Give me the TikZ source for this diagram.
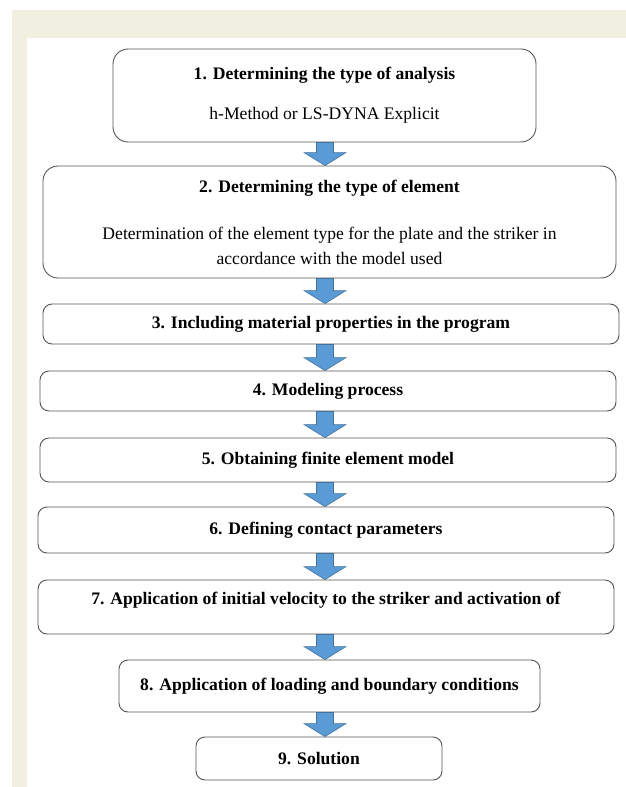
\documentclass[tikz,border=0pt]{standalone}
\usepackage{fontspec}
\setmainfont{Liberation Serif}
\usetikzlibrary{calc,positioning}
\definecolor{panelcream}{RGB}{241,239,224}
\definecolor{boxline}{RGB}{85,85,85}
\definecolor{arrowblue}{RGB}{91,155,213}
\definecolor{arrowedge}{RGB}{65,113,156}
\tikzset{
  stepbox/.style = {shape=rectangle, rounded corners=#1, draw=boxline,
    line width=0.9pt, align=center, inner sep=0pt,
    font=\fontsize{17.6}{25}\selectfont},
  stepbox/.default = 9pt,
  % block arrow between two boxes
  flowarrow/.style = {fill=arrowblue, draw=arrowedge, line width=0.6pt,
    to path={let \p1=(\tikztostart), \p2=(\tikztotarget) in
      (\x1-8.5pt,\y1) -- (\x1+8.5pt,\y1) -- (\x1+8.5pt,\y2+13pt)
      -- (\x1+21pt,\y2+13pt) -- (\x2,\y2) -- (\x1-21pt,\y2+13pt)
      -- (\x1-8.5pt,\y2+13pt) -- cycle}}
}
\begin{document}
\begin{tikzpicture}[x=1pt, y=-1pt]
  \useasboundingbox (0,0) rectangle (626,787);
  \fill[panelcream] (12,10) rectangle (626,787);
  \fill[white] (27,38) rectangle (626,787);
  \coordinate (axis) at (325,0);

  \node[stepbox=15pt, minimum width=423pt, minimum height=93pt] (s1) at (324.5,95.5)
    {\textbf{1. Determining the type of analysis}\\[15pt] h-Method or LS-DYNA Explicit};
  \node[stepbox=15pt, minimum width=573pt, minimum height=112pt] (s2) at (329.5,222)
    {\textbf{2. Determining the type of element}\\[22pt]
     Determination of the element type for the plate and the striker in\\
     accordance with the model used};
  \node[stepbox, minimum width=576pt, minimum height=40pt] (s3) at (331,324)
    {\textbf{3. Including material properties in the program}};
  \node[stepbox, minimum width=576pt, minimum height=40pt] (s4) at (328,391)
    {\textbf{4. Modeling process}};
  \node[stepbox, minimum width=576pt, minimum height=44pt] (s5) at (328,460)
    {\textbf{5. Obtaining finite element model}};
  \node[stepbox, minimum width=576pt, minimum height=46pt] (s6) at (326,530)
    {\textbf{6. Defining contact parameters}};
  \node[stepbox, minimum width=576pt, minimum height=54pt] (s7) at (326,607)
    {\textbf{7. Application of initial velocity to the striker and activation of}\\[-8pt] \mbox{}};
  \node[stepbox, minimum width=421pt, minimum height=52pt] (s8) at (329.5,686)
    {\textbf{8. Application of loading and boundary conditions}};
  \node[stepbox, minimum width=246pt, minimum height=43pt] (s9) at (319,758.5)
    {\textbf{9. Solution}};

  \foreach \a/\b in {s1/s2, s2/s3, s3/s4, s4/s5, s5/s6, s6/s7, s7/s8, s8/s9}
    \draw[flowarrow] (\a.south -| axis) to (\b.north -| axis);
\end{tikzpicture}
\end{document}
